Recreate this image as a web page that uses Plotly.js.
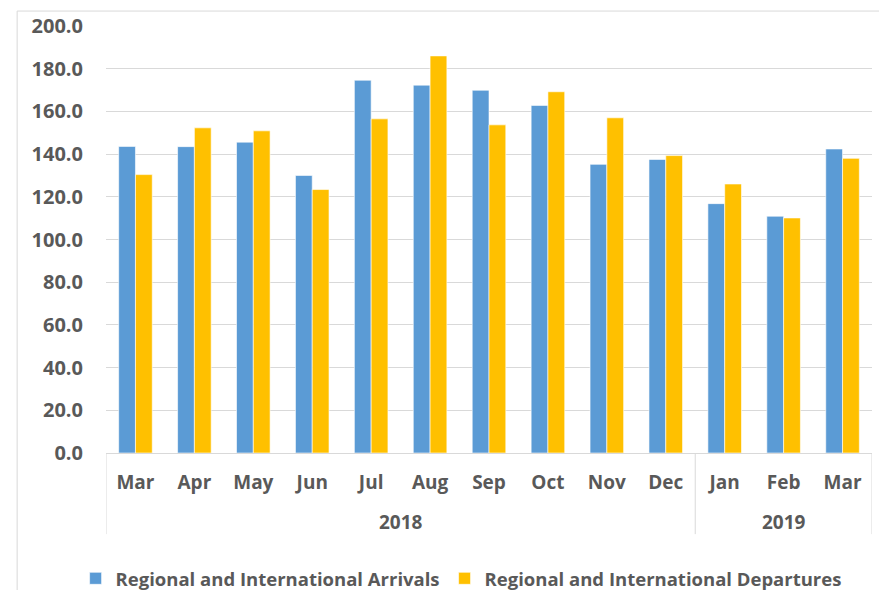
<!DOCTYPE html>
<html>
<head>
<meta charset="utf-8">
<script src="https://cdn.plot.ly/plotly-3.0.1.min.js"></script>
<style>html,body{margin:0;padding:0;background:#fff;}#chart{width:879px;height:590px;}</style>
</head>
<body>
<div id="chart"></div>
<script>
var years = ["2018","2018","2018","2018","2018","2018","2018","2018","2018","2018","2019","2019","2019"];
var months = ["Mar","Apr","May","Jun","Jul","Aug","Sep","Oct","Nov","Dec","Jan","Feb","Mar"];
var arrivals = [143.6,143.5,145.6,130.0,174.6,172.3,169.9,162.8,135.2,137.5,116.8,110.9,142.4];
var departures = [130.4,152.3,150.9,123.4,156.5,186.0,153.7,169.2,157.0,139.3,126.0,110.1,138.0];
var seriesNames = ["Regional and International Arrivals","Regional and International Departures"];
var yTicks = [0,20,40,60,80,100,120,140,160,180,200];

var textColor = "#595959";
var fontFam = "'Open Sans', sans-serif";
var gridCol = "#d9d9d9";

var idx = months.map(function(m, i){ return i; });

var traces = [
  {type:"bar", x:idx, y:arrivals, name:seriesNames[0],
   marker:{color:"#5B9BD5", line:{color:"rgba(255,255,255,0.6)", width:1}}},
  {type:"bar", x:idx, y:departures, name:seriesNames[1],
   marker:{color:"#FFC000", line:{color:"rgba(255,255,255,0.6)", width:1}}}
];

// year groups: annotations + dividers derived from the years array
var groups = [];
years.forEach(function(y, i){
  if (!groups.length || groups[groups.length-1].year !== y) groups.push({year:y, start:i, end:i});
  else groups[groups.length-1].end = i;
});
var annotations = groups.map(function(g){
  return {xref:"x", yref:"paper", x:(g.start+g.end)/2, y:-0.161, yanchor:"middle",
          text:g.year, showarrow:false,
          font:{family:fontFam, size:19, color:textColor, weight:"bold"}};
});
var shapes = [];
var bounds = [groups[0].start-0.5].concat(groups.map(function(g){return g.end+0.5;}));
bounds.forEach(function(b){
  shapes.push({type:"line", xref:"x", yref:"paper", x0:b, x1:b, y0:0, y1:-0.19,
               line:{color:gridCol, width:1}});
});
shapes.push({type:"rect", xref:"paper", yref:"paper", x0:-0.116, x1:1.03, y0:-0.35, y1:1.035,
             line:{color:gridCol, width:1}, fillcolor:"rgba(0,0,0,0)", layer:"below"});

var layout = {
  width:879, height:590,
  margin:{l:106, r:7, t:26, b:137},
  paper_bgcolor:"#fff", plot_bgcolor:"#fff",
  barmode:"group", bargap:0.43, bargroupgap:0,
  font:{family:fontFam, color:textColor, size:19},
  xaxis:{range:[-0.5, months.length-0.5], tickvals:idx, ticktext:months,
         showline:true, linecolor:gridCol, linewidth:1, showgrid:false, zeroline:false,
         ticks:"", ticklabelstandoff:12, automargin:false,
         tickfont:{family:fontFam, size:19, color:textColor, weight:"bold"}},
  yaxis:{range:[0,200], tickvals:yTicks, ticktext:yTicks.map(function(v){return v.toFixed(1);}),
         showgrid:true, gridcolor:gridCol, gridwidth:1, zeroline:false, showline:false,
         ticks:"", ticklabelstandoff:22, automargin:false,
         tickfont:{family:fontFam, size:20, color:textColor, weight:"bold"}},
  legend:{orientation:"h", xref:"container", x:0.086, xanchor:"left",
          yref:"container", y:0.019, yanchor:"middle",
          font:{family:fontFam, size:18.5, color:textColor, weight:"bold"}},
  showlegend:true,
  annotations:annotations,
  shapes:shapes
};

Plotly.newPlot("chart", traces, layout, {displayModeBar:false, staticPlot:true});
</script>
</body>
</html>
